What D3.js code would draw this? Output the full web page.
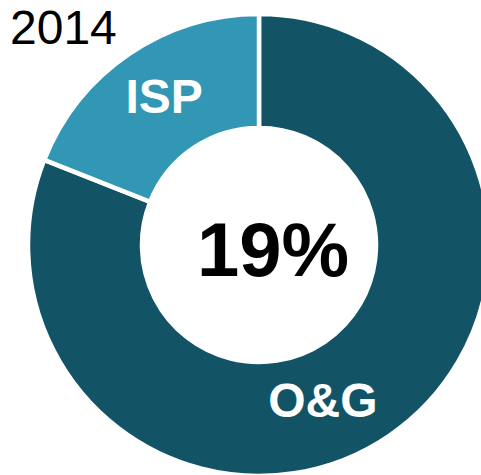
<!DOCTYPE html>
<html>
<head>
<meta charset="utf-8">
<script src="https://cdn.jsdelivr.net/npm/d3@7"></script>
<style>
  body { margin: 0; background: #fff; }
  svg { display: block; font-family: "Liberation Sans", Arial, sans-serif; }
</style>
</head>
<body>
<script>
const categories = ['O&G', 'ISP'];
const shares = [81, 19];
const colors = ['#135366', '#3296B5'];
const year = '2014';

const width = 481, height = 475;
const cx = 259, cy = 245;
const outer = 231, inner = 117;

const svg = d3.select('body').append('svg')
  .attr('width', width)
  .attr('height', height);

const data = categories.map((c, i) => ({name: c, value: shares[i], color: colors[i]}));

const pie = d3.pie().sort(null).value(d => d.value);
const arc = d3.arc().innerRadius(inner).outerRadius(outer);

const $g = svg.append('g').attr('transform', `translate(${cx},${cy})`);

$g.selectAll('path')
  .data(pie(data))
  .join('path')
  .attr('d', arc)
  .attr('fill', d => d.data.color)
  .attr('stroke', '#fff')
  .attr('stroke-width', 4.5);

// slice labels, nudged from the arc centroid
const nudge = {'O&G': [-34, 28], 'ISP': [3, 12]};
$g.selectAll('text.slice')
  .data(pie(data))
  .join('text')
  .attr('class', 'slice')
  .attr('x', d => arc.centroid(d)[0] + nudge[d.data.name][0])
  .attr('y', d => arc.centroid(d)[1] + nudge[d.data.name][1])
  .attr('text-anchor', 'middle')
  .attr('fill', '#fff')
  .attr('font-weight', 'bold')
  .attr('font-size', 48)
  .text(d => d.data.name);

// centre value
$g.append('text')
  .attr('x', 14)
  .attr('y', 31)
  .attr('text-anchor', 'middle')
  .attr('font-weight', 'bold')
  .attr('font-size', 76)
  .attr('fill', '#000')
  .text(shares[1] + '%');

svg.append('text')
  .attr('x', 10)
  .attr('y', 44)
  .attr('font-size', 48)
  .attr('fill', '#000')
  .text(year);
</script>
</body>
</html>
